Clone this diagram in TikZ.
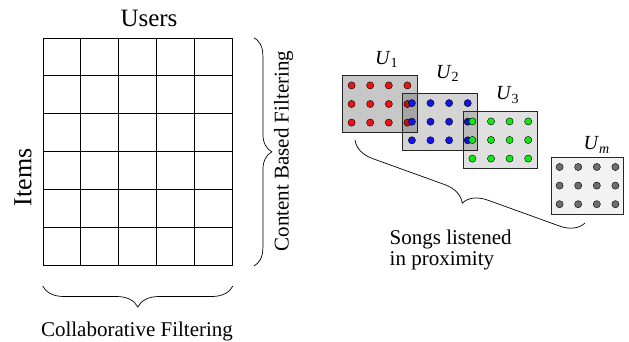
\documentclass[tikz,border=0pt]{standalone}
\usepackage{fontspec}
\setmainfont{Liberation Serif}
\usetikzlibrary{decorations.pathreplacing,calc}
\definecolor{dotred}{RGB}{235,20,20}
\definecolor{dotblue}{RGB}{20,20,230}
\definecolor{dotgreen}{RGB}{20,230,20}
\definecolor{dotgray}{RGB}{110,110,110}
\newcommand\usub[1]{\textit{U}\textsubscript{#1}}
\newcommand\songbox[6]{%
  \node[sbox, fill opacity=#5, minimum width=#6pt] (#1) at (#2,#3) {};
  \foreach \i in {-1.5,-0.5,0.5,1.5}{
    \foreach \j in {-1,0,1}{
      \fill[#4, draw=black, line width=0.4pt] ($(#1.center)+(\i*18.6,\j*18.6)$) circle (3.6);
    }
  }%
}
\begin{document}
\begin{tikzpicture}[x=1pt,y=-1pt,
  gridline/.style={line width=0.9pt, black},
  sbox/.style={draw=black!85, line width=0.8pt, fill=black, minimum height=57pt, inner sep=0pt},
  bracestyle/.style={decorate, line width=0.7pt},
  lab/.style={inner sep=0pt, font=\fontsize{21}{21}\selectfont},
  ulab/.style={inner sep=0pt, font=\fontsize{20}{20}\selectfont},
  big/.style={inner sep=0pt, font=\fontsize{25}{25}\selectfont}]
\useasboundingbox (0,0) rectangle (629,341);

% matrix grid
\node[draw, gridline, minimum width=189.3pt, minimum height=227.4pt, inner sep=0pt, anchor=north west] (grid) at (42.7,37.7) {};
\foreach \k in {1,2,3,4}{
  \draw[gridline] ($(grid.north west)+(\k*37.86,0)$) -- ($(grid.south west)+(\k*37.86,0)$);
}
\foreach \k in {1,2,3,4,5}{
  \draw[gridline] ($(grid.north west)+(0,\k*37.9)$) -- ($(grid.north east)+(0,\k*37.9)$);
}

\node[big, anchor=base] (users) at (149,26.7) {Users};
\node[big, rotate=90, font=\fontsize{26}{26}\selectfont] (items) at (23,177.5) {Items};

\draw[bracestyle, decoration={brace, amplitude=18pt}] ([xshift=21pt]grid.north east) -- ([xshift=21pt]grid.south east);
\node[lab, rotate=90] (cbf) at (283.5,151) {Content Based Filtering};

\draw[bracestyle, decoration={brace, amplitude=21pt}] ([yshift=-20pt]grid.south east) -- ([yshift=-20pt]grid.south west);
\node[lab, anchor=base] (cf) at (137,336.5) {Collaborative Filtering};

% song boxes
\songbox{b1}{379.5}{104}{dotred}{0.22}{75}
\songbox{b2}{439.8}{121.7}{dotblue}{0.17}{75}
\songbox{b3}{500.3}{140}{dotgreen}{0.12}{74}
\songbox{bm}{587.5}{185.6}{dotgray}{0.05}{72}

\node[ulab] (l1) at (386.7,59.3) {\usub{1}};
\node[ulab] (l2) at (447.7,73.3) {\usub{2}};
\node[ulab] (l3) at (507.7,95) {\usub{3}};
\node[ulab] (lm) at (596.7,145) {\usub{\textit{m}}};

\coordinate (bs) at (355,140);
\coordinate (be) at (585,223);
\draw[bracestyle, decoration={brace, amplitude=23pt}] (be) -- (bs);

\node[lab, anchor=base west] (s1) at (389.5,244) {Songs listened};
\node[lab, anchor=base west] (s2) at (389.5,265.5) {in proximity};
\end{tikzpicture}
\end{document}
